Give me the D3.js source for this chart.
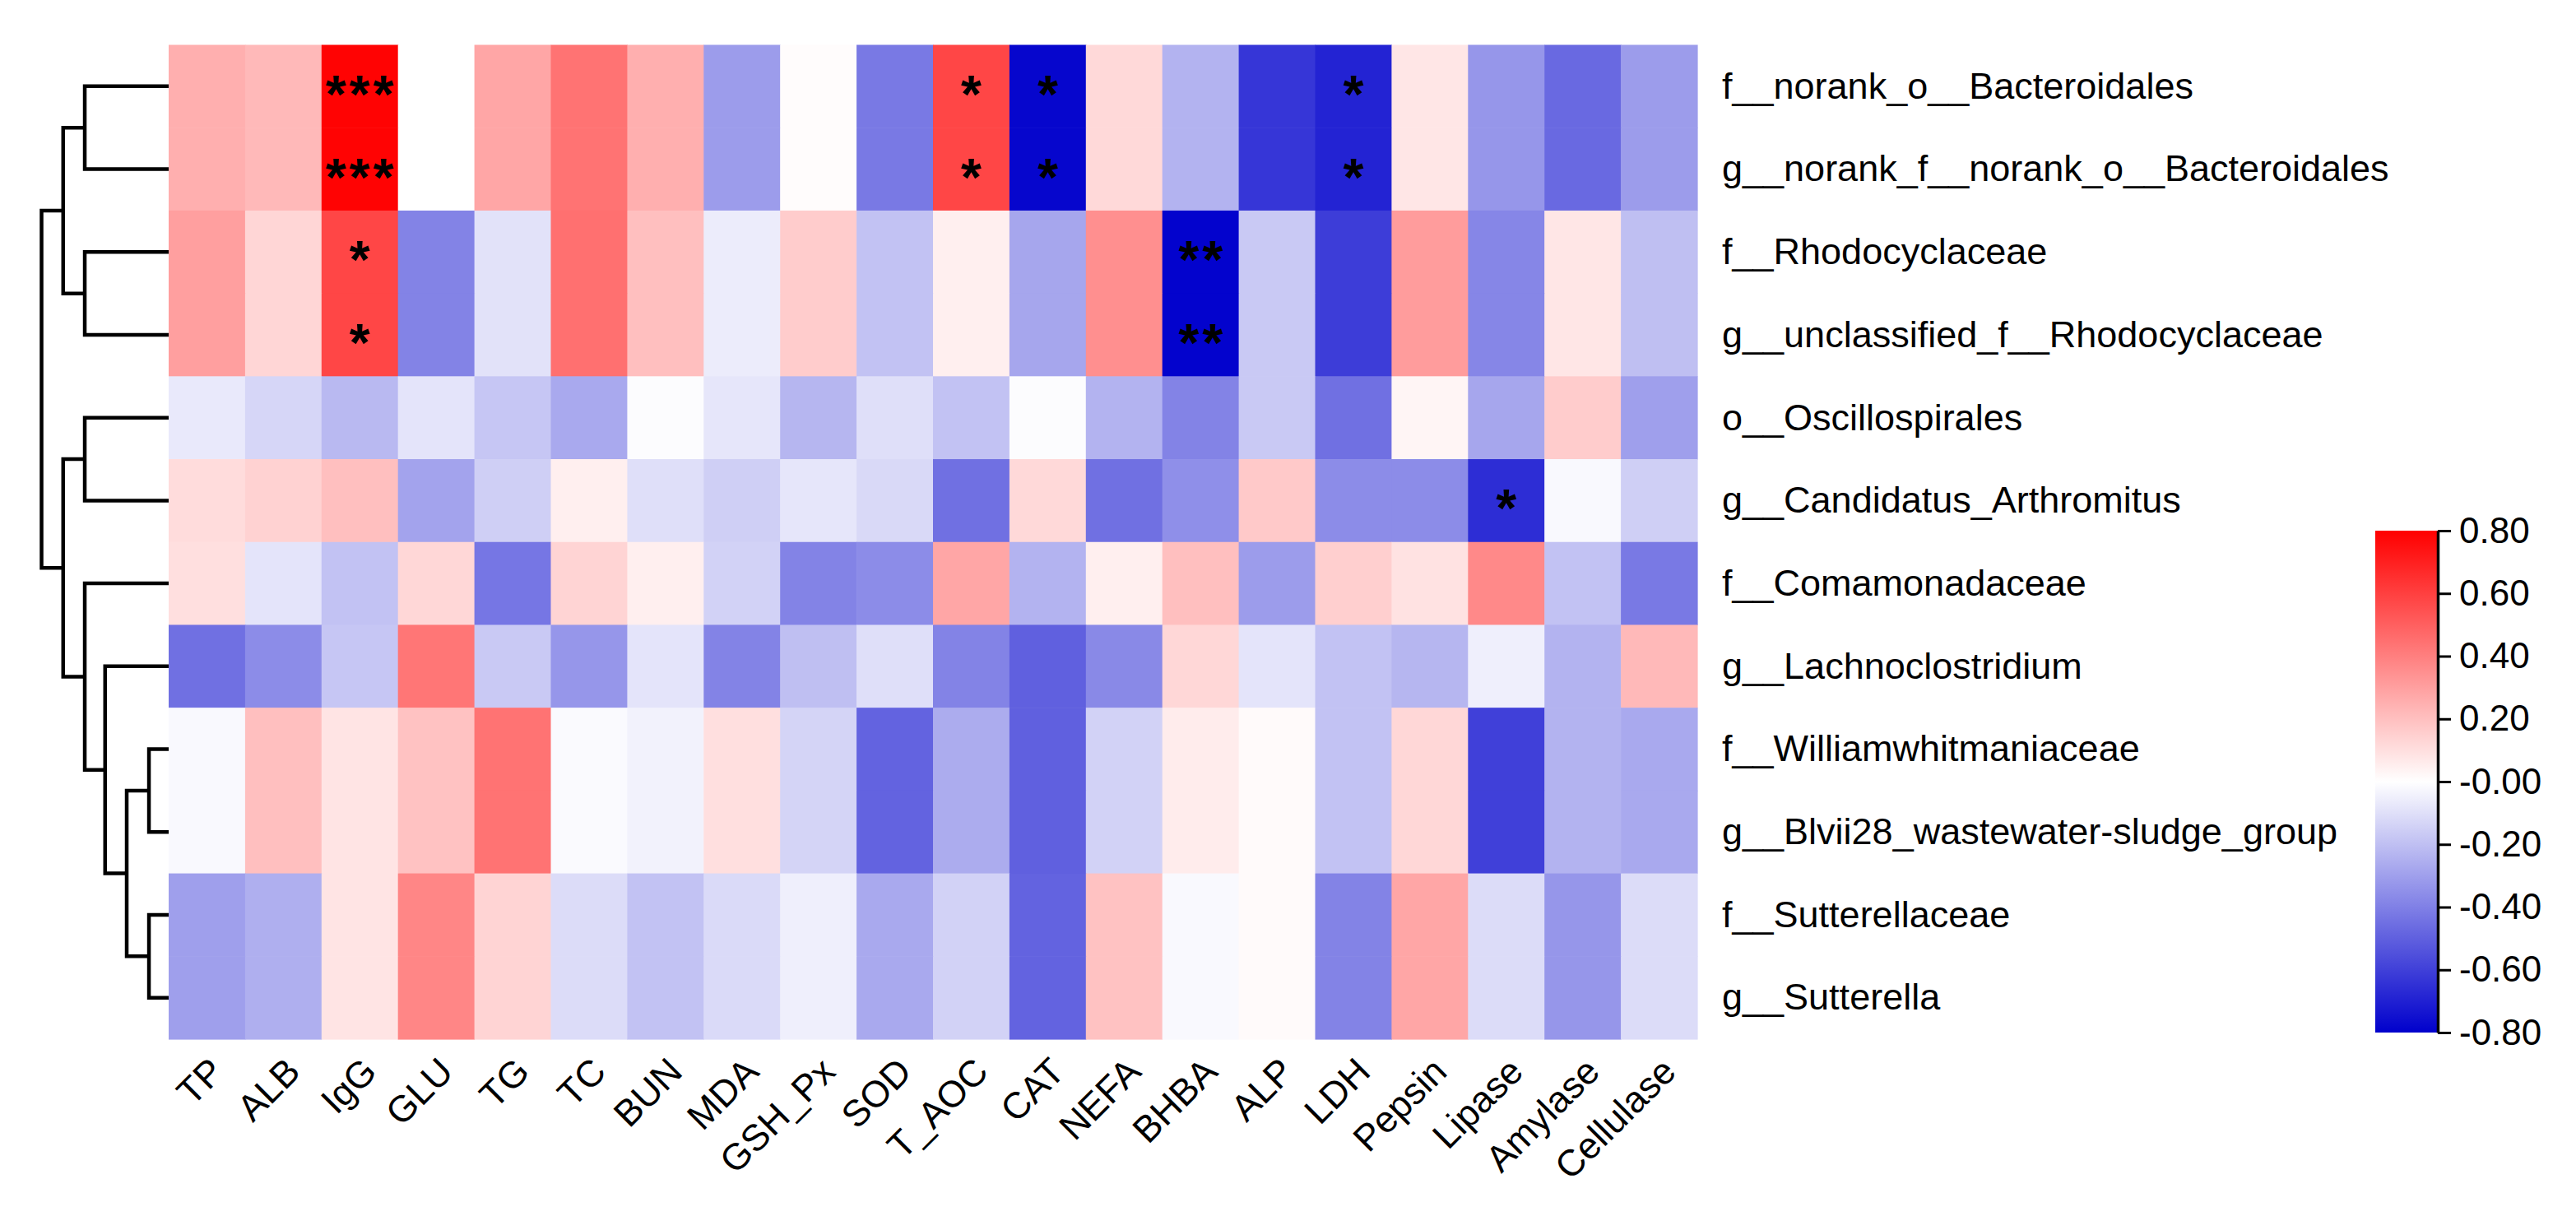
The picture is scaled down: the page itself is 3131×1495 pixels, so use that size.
<!DOCTYPE html>
<html>
<head>
<meta charset="utf-8">
<script src="https://cdn.jsdelivr.net/npm/d3@7"></script>
<style>
  html, body { margin: 0; padding: 0; background: #fff; }
  svg { display: block; font-family: "Liberation Sans", Arial, sans-serif; }
</style>
</head>
<body>
<svg id="chart"></svg>
<script>
const rowLabels = [
  "f__norank_o__Bacteroidales",
  "g__norank_f__norank_o__Bacteroidales",
  "f__Rhodocyclaceae",
  "g__unclassified_f__Rhodocyclaceae",
  "o__Oscillospirales",
  "g__Candidatus_Arthromitus",
  "f__Comamonadaceae",
  "g__Lachnoclostridium",
  "f__Williamwhitmaniaceae",
  "g__Blvii28_wastewater-sludge_group",
  "f__Sutterellaceae",
  "g__Sutterella"
];

const colLabels = ["TP", "ALB", "IgG", "GLU", "TG", "TC", "BUN", "MDA", "GSH_Px", "SOD",
  "T_AOC", "CAT", "NEFA", "BHBA", "ALP", "LDH", "Pepsin", "Lipase", "Amylase", "Cellulase"];

// correlation values, one row per taxon, in colLabels order
const corr = [
  [0.25, 0.22, 0.79, 0.00, 0.28, 0.44, 0.25, -0.31, 0.01, -0.42, 0.58, -0.78, 0.12, -0.24, -0.63, -0.69, 0.08, -0.33, -0.47, -0.31],
  [0.25, 0.22, 0.79, 0.00, 0.28, 0.44, 0.25, -0.31, 0.01, -0.42, 0.58, -0.78, 0.12, -0.24, -0.63, -0.69, 0.08, -0.33, -0.47, -0.31],
  [0.30, 0.13, 0.58, -0.39, -0.09, 0.45, 0.20, -0.06, 0.16, -0.19, 0.05, -0.28, 0.35, -0.79, -0.17, -0.61, 0.31, -0.38, 0.08, -0.20],
  [0.30, 0.13, 0.58, -0.39, -0.09, 0.45, 0.20, -0.06, 0.16, -0.19, 0.05, -0.28, 0.35, -0.79, -0.17, -0.61, 0.31, -0.38, 0.08, -0.20],
  [-0.07, -0.13, -0.22, -0.085, -0.18, -0.27, -0.01, -0.08, -0.23, -0.10, -0.19, -0.01, -0.24, -0.39, -0.17, -0.45, 0.03, -0.28, 0.16, -0.30],
  [0.11, 0.14, 0.20, -0.29, -0.15, 0.05, -0.10, -0.15, -0.08, -0.12, -0.45, 0.12, -0.45, -0.35, 0.17, -0.36, -0.36, -0.66, -0.02, -0.15],
  [0.10, -0.085, -0.19, 0.125, -0.43, 0.135, 0.05, -0.14, -0.39, -0.36, 0.28, -0.24, 0.05, 0.20, -0.31, 0.15, 0.09, 0.37, -0.19, -0.42],
  [-0.45, -0.36, -0.18, 0.43, -0.17, -0.33, -0.085, -0.39, -0.20, -0.10, -0.39, -0.50, -0.37, 0.125, -0.085, -0.19, -0.23, -0.05, -0.24, 0.22],
  [-0.02, 0.20, 0.085, 0.19, 0.44, -0.015, -0.04, 0.10, -0.135, -0.49, -0.26, -0.50, -0.14, 0.06, 0.015, -0.19, 0.125, -0.60, -0.24, -0.27],
  [-0.02, 0.20, 0.085, 0.19, 0.44, -0.015, -0.04, 0.10, -0.135, -0.49, -0.26, -0.50, -0.14, 0.06, 0.015, -0.19, 0.125, -0.60, -0.24, -0.27],
  [-0.30, -0.25, 0.085, 0.38, 0.135, -0.11, -0.19, -0.115, -0.05, -0.27, -0.14, -0.49, 0.19, -0.02, 0.015, -0.39, 0.28, -0.11, -0.33, -0.11],
  [-0.30, -0.25, 0.085, 0.38, 0.135, -0.11, -0.19, -0.115, -0.05, -0.27, -0.14, -0.49, 0.19, -0.02, 0.015, -0.39, 0.28, -0.11, -0.33, -0.11]
];

// [row, column, mark]
const signif = [
  [0, 2, "***"], [0, 10, "*"], [0, 11, "*"], [0, 15, "*"],
  [1, 2, "***"], [1, 10, "*"], [1, 11, "*"], [1, 15, "*"],
  [2, 2, "*"], [2, 13, "**"],
  [3, 2, "*"], [3, 13, "**"],
  [5, 17, "*"]
];

// row clustering: [left, right, height]; rN = row N, mN = merge N
const dendroMerges = [
  ["r8", "r9", 0.155],
  ["r10", "r11", 0.155],
  ["m0", "m1", 0.33],
  ["r7", "m2", 0.5],
  ["r6", "m3", 0.66],
  ["r4", "r5", 0.66],
  ["m5", "m4", 0.83],
  ["r0", "r1", 0.66],
  ["r2", "r3", 0.66],
  ["m7", "m8", 0.83],
  ["m9", "m6", 1.0]
];

const legendTicks = [0.8, 0.6, 0.4, 0.2, 0, -0.2, -0.4, -0.6, -0.8];
const legendTickLabels = ["0.80", "0.60", "0.40", "0.20", "-0.00", "-0.20", "-0.40", "-0.60", "-0.80"];

const width = 3131, height = 1495;
const grid = { left: 205, right: 2063, top: 54.5, bottom: 1263 };

const svg = d3.select("#chart")
  .attr("width", width)
  .attr("height", height);

const x = d3.scaleBand().domain(colLabels).range([grid.left, grid.right]);
const y = d3.scaleBand().domain(rowLabels).range([grid.top, grid.bottom]);
const color = d3.scaleLinear()
  .domain([-0.8, 0, 0.8])
  .range(["#0000cc", "#ffffff", "#ff0000"])
  .clamp(true);

// cells
const cells = [];
corr.forEach((row, i) => row.forEach((v, j) => cells.push({ r: rowLabels[i], c: colLabels[j], v })));

svg.append("g")
  .selectAll("rect")
  .data(cells)
  .join("rect")
  .attr("x", d => x(d.c))
  .attr("y", d => y(d.r))
  .attr("width", x.bandwidth() + 0.6)
  .attr("height", y.bandwidth() + 0.6)
  .attr("fill", d => color(d.v));

// significance marks
const starSpacing = 4;
svg.append("g")
  .selectAll("text")
  .data(signif)
  .join("text")
  .attr("x", d => x(colLabels[d[1]]) + x.bandwidth() / 2 + starSpacing / 2)
  .attr("y", d => y(rowLabels[d[0]]) + y.bandwidth() / 2 + 32)
  .attr("text-anchor", "middle")
  .attr("font-size", 64)
  .attr("font-weight", "bold")
  .attr("letter-spacing", starSpacing)
  .text(d => d[2]);

// row labels
svg.append("g")
  .selectAll("text")
  .data(rowLabels)
  .join("text")
  .attr("x", grid.right + 30)
  .attr("y", d => y(d) + y.bandwidth() / 2)
  .attr("dy", "0.33em")
  .attr("font-size", 45)
  .text(d => d);

// column labels
svg.append("g")
  .selectAll("text")
  .data(colLabels)
  .join("text")
  .attr("transform", d => `translate(${x(d) + x.bandwidth() / 2 + 23},${grid.bottom + 42}) rotate(-45)`)
  .attr("text-anchor", "end")
  .attr("font-size", 45)
  .text(d => d);

// dendrogram
const nodes = {};
rowLabels.forEach((r, i) => { nodes["r" + i] = { name: r, h: 0 }; });
dendroMerges.forEach((m, i) => { nodes["m" + i] = { h: m[2], children: [nodes[m[0]], nodes[m[1]]] }; });
const root = d3.hierarchy(nodes["m" + (dendroMerges.length - 1)]);
const hx = d3.scaleLinear().domain([0, 1]).range([grid.left, 50.5]);

root.eachAfter(n => {
  n.yPos = n.children ? d3.mean(n.children, c => c.yPos) : y(n.data.name) + y.bandwidth() / 2;
});

svg.append("g")
  .attr("fill", "none")
  .attr("stroke", "#000")
  .attr("stroke-width", 4.5)
  .selectAll("path")
  .data(root.descendants().filter(n => n.children))
  .join("path")
  .attr("d", n => {
    const [a, b] = n.children;
    return `M${hx(a.data.h)},${a.yPos}H${hx(n.data.h)}V${b.yPos}H${hx(b.data.h)}`;
  });

// colour legend
const legend = { left: 2887, width: 76, top: 645, bottom: 1255 };
const ly = d3.scaleLinear().domain([-0.8, 0.8]).range([legend.bottom, legend.top]);

const grad = svg.append("defs").append("linearGradient")
  .attr("id", "legendGrad")
  .attr("x1", 0).attr("y1", 1).attr("x2", 0).attr("y2", 0);
grad.selectAll("stop")
  .data(d3.range(0, 1.0001, 0.05))
  .join("stop")
  .attr("offset", d => d)
  .attr("stop-color", d => color(-0.8 + 1.6 * d));

svg.append("rect")
  .attr("x", legend.left)
  .attr("y", legend.top)
  .attr("width", legend.width)
  .attr("height", legend.bottom - legend.top)
  .attr("fill", "url(#legendGrad)");

const legendAxis = svg.append("g")
  .attr("transform", `translate(${legend.left + legend.width},0)`)
  .call(d3.axisRight(ly)
    .tickValues(legendTicks)
    .tickFormat((d, i) => legendTickLabels[i])
    .tickSize(16)
    .tickSizeOuter(0)
    .tickPadding(10));

legendAxis.select(".domain").attr("stroke-width", 3.5);
legendAxis.selectAll(".tick line").attr("stroke-width", 3);
legendAxis.selectAll(".tick text")
  .attr("font-size", 44)
  .attr("font-family", "'Liberation Sans', Arial, sans-serif")
  .attr("fill", "#000");
</script>
</body>
</html>
